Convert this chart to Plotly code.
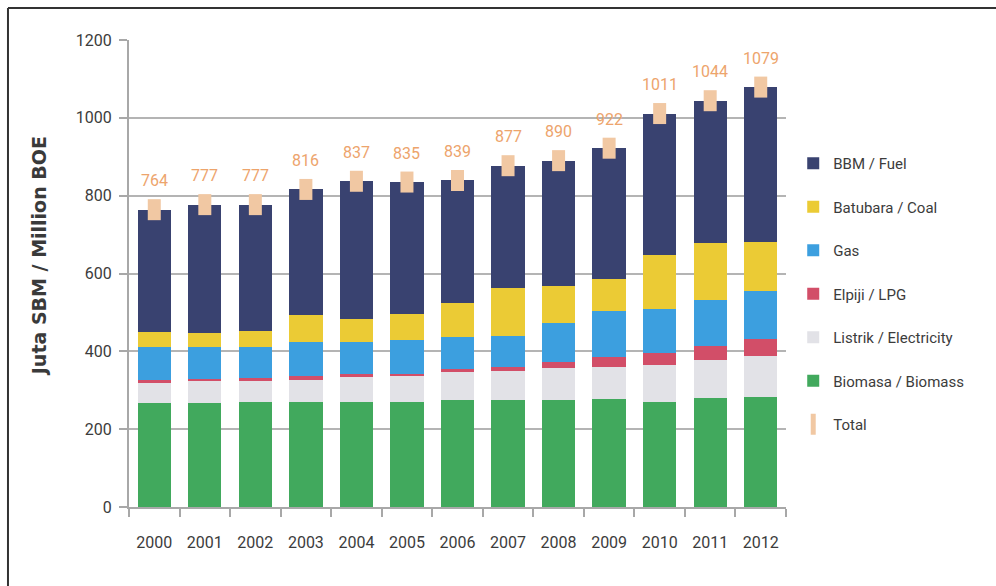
import plotly.graph_objects as go

# Energy consumption by type, Indonesia 2000-2012 (million BOE)
years = ["2000", "2001", "2002", "2003", "2004", "2005", "2006",
         "2007", "2008", "2009", "2010", "2011", "2012"]

biomass = [267, 267, 270, 270, 270, 269, 274, 274, 276, 277, 271, 280, 283]
electricity = [52, 56, 55, 57, 64, 67, 72, 76, 81, 84, 93, 97, 106]
lpg = [8, 7, 7, 10, 7, 7, 9, 10, 16, 25, 32, 38, 43]
gas = [83, 80, 78, 88, 84, 87, 82, 79, 100, 117, 113, 118, 124]
coal = [39, 37, 41, 69, 57, 65, 88, 123, 95, 84, 138, 146, 125]
totals = [764, 777, 777, 816, 837, 835, 839, 877, 890, 922, 1011, 1044, 1079]

# fuel is the remainder up to the stated total
fuel = [t - (b + e + l + g + c) for t, b, e, l, g, c in
        zip(totals, biomass, electricity, lpg, gas, coal)]

y_ticks = [0, 200, 400, 600, 800, 1000, 1200]

base_font = "Roboto, Liberation Sans, sans-serif"

series = [
    ("Biomasa / Biomass", biomass, "#41a95d", 6),
    ("Listrik / Electricity", electricity, "#e2e2e7", 5),
    ("Elpiji / LPG", lpg, "#d24e68", 4),
    ("Gas", gas, "#3c9fdf", 3),
    ("Batubara / Coal", coal, "#ebcb35", 2),
    ("BBM / Fuel", fuel, "#394270", 1),
]

fig = go.Figure()
for name, vals, color, rank in series:
    fig.add_trace(go.Bar(
        x=years, y=vals, name=name, marker=dict(color=color, line=dict(width=0)),
        legendrank=rank, legendgroup=name,
    ))

# total markers: short, thick vertical tabs centred on each total
fig.add_trace(go.Scatter(
    x=years, y=totals, name="Total", mode="markers",
    marker=dict(symbol="line-ns", size=15, color="#f1c8a3",
                line=dict(color="#f1c8a3", width=13)),
    legendrank=7, legendgroup="Total",
))

# value labels above each total marker (category index positions)
for i, t in enumerate(totals):
    fig.add_annotation(
        x=i, y=t, text=str(t), showarrow=False, yshift=29,
        font=dict(family=base_font, size=16, color="#eda46c"),
    )

# vertical axis caption
fig.add_annotation(
    xref="paper", yref="paper", x=-0.137, y=0.537, xanchor="center",
    yanchor="middle",
    text="<b>Juta SBM / Million BOE</b>", textangle=-90, showarrow=False,
    font=dict(family="DejaVu Sans, Verdana, sans-serif", size=19, color="#3a3a3a"),
)

# frame lines along the top and left edges of the page
fig.add_shape(type="line", xref="paper", yref="paper",
              x0=-0.1842, x1=1.32, y0=1.0685, y1=1.0685,
              line=dict(color="#333333", width=2))
fig.add_shape(type="line", xref="paper", yref="paper",
              x0=-0.1842, x1=-0.1842, y0=1.0685, y1=-0.2,
              line=dict(color="#333333", width=2))

fig.update_layout(
    width=996, height=586,
    margin=dict(l=129, r=210, t=40, b=79),
    barmode="stack", bargap=0.34,
    paper_bgcolor="white", plot_bgcolor="white",
    font=dict(family=base_font, size=15, color="#3c3c3c"),
    legend=dict(
        x=1.011, xanchor="left", y=0.771, yanchor="top",
        traceorder="grouped", tracegroupgap=21,
        font=dict(family=base_font, size=15, color="#3c3c3c"),
        itemwidth=30,
    ),
)

fig.update_xaxes(
    type="category", range=[-0.5, len(years) - 0.5],
    showline=True, linecolor="#a8a8a8", linewidth=2,
    ticks="outside", tickson="boundaries", ticklen=8, tickcolor="#a8a8a8",
    tickwidth=1.5, ticklabelstandoff=20, showgrid=False,
    tickfont=dict(family=base_font, size=16, color="#3c3c3c"),
)
fig.update_yaxes(
    range=[0, 1200], tickvals=y_ticks, showgrid=True, gridcolor="#b4b4b4",
    gridwidth=1.5, showline=True, linecolor="#a8a8a8", linewidth=2,
    ticks="outside", ticklen=8, tickcolor="#a8a8a8", tickwidth=1.5,
    zeroline=False, ticklabelstandoff=4,
    tickfont=dict(family=base_font, size=16, color="#3c3c3c"),
)

fig.write_html("out.html")
